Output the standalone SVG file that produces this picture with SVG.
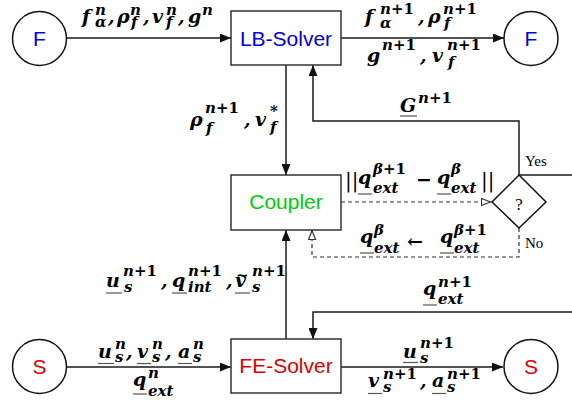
<svg xmlns="http://www.w3.org/2000/svg" width="572" height="407" viewBox="0 0 572 407">
<style>
.ln{stroke:#1a1a1a;stroke-width:1.5;fill:none}
.dash{stroke:#333;stroke-width:1.2;stroke-dasharray:4 3;fill:none}
.box{fill:#fff;stroke:#333;stroke-width:1.5}
.circ{fill:#fff;stroke:#111;stroke-width:1.5}
.lbl{font-family:"Liberation Sans",Arial,sans-serif;font-size:21px;text-anchor:middle}
.blue{fill:#0000dd}.green{fill:#00cc00}.red{fill:#dd0000}
.m{font-family:"DejaVu Serif",serif;font-weight:bold;font-style:italic;font-size:19px;fill:#000}
.s{font-size:15px}
.r{font-style:normal}
.ul{stroke:#555;stroke-width:1.2}
.t{font-family:"Liberation Serif",serif;font-size:15px;fill:#000}
.bar{font-family:"DejaVu Serif",serif;font-size:20px;fill:#000}
</style>
<defs>
<marker id="a" viewBox="0 0 11 9" refX="11" refY="4.5" markerWidth="11" markerHeight="9" markerUnits="userSpaceOnUse" orient="auto"><path d="M0,0 L11,4.5 L0,9 z" fill="#111"/></marker>
<marker id="o" viewBox="0 0 11 9" refX="10.5" refY="4.5" markerWidth="11" markerHeight="9" markerUnits="userSpaceOnUse" orient="auto"><path d="M1,1 L10,4.5 L1,8 z" fill="#fff" stroke="#333" stroke-width="1.2"/></marker>
</defs>

<g id="connectors">
<path class="ln" d="M67,38 H231" marker-end="url(#a)"/>
<path class="ln" d="M341,38 H504" marker-end="url(#a)"/>
<path class="ln" d="M286,65 V175" marker-end="url(#a)"/>
<path class="ln" d="M519,175 V121 H313 V65" marker-end="url(#a)"/>
<path class="ln" d="M519,175 H572"/>
<path class="dash" d="M341,202 H491" marker-end="url(#o)"/>
<path class="dash" d="M519,228 V257 H312 V230" marker-end="url(#o)"/>
<path class="ln" d="M286,339 V230" marker-end="url(#a)"/>
<path class="ln" d="M572,312 H313 V339" marker-end="url(#a)"/>
<path class="ln" d="M67,367 H231" marker-end="url(#a)"/>
<path class="ln" d="M341,367 H503" marker-end="url(#a)"/>
</g>

<g id="F-in"><circle class="circ" cx="39.5" cy="38.5" r="27"/><text class="lbl blue" x="39.5" y="46">F</text></g>
<g id="LB-Solver"><rect class="box" x="231" y="11" width="110" height="54"/><text class="lbl blue" x="286" y="46">LB-Solver</text></g>
<g id="F-out"><circle class="circ" cx="531" cy="38.5" r="27"/><text class="lbl blue" x="531" y="46">F</text></g>
<g id="Coupler"><rect class="box" x="231" y="175" width="110" height="55"/><text class="lbl green" x="286" y="209">Coupler</text></g>
<g id="Check"><polygon class="box" points="519,175 546,202 519,228 492,202" style="stroke:#111"/><text class="t" x="519" y="210" text-anchor="middle" style="font-size:17px">?</text></g>
<g id="FE-Solver"><rect class="box" x="231" y="339" width="110" height="54"/><text class="lbl red" x="286" y="373">FE-Solver</text></g>
<g id="S-in"><circle class="circ" cx="39.5" cy="366.5" r="27"/><text class="lbl red" x="39.5" y="374">S</text></g>
<g id="S-out"><circle class="circ" cx="531" cy="366.5" r="27"/><text class="lbl red" x="531" y="374">S</text></g>

<g id="labels">
<text class="t" x="525" y="166">Yes</text>
<text class="t" x="525" y="248">No</text>

<text class="m"><tspan x="82" y="23">f</tspan><tspan class="s" x="95" y="15">n</tspan><tspan class="s" x="95" y="27">α</tspan><tspan x="108" y="23">,</tspan><tspan x="117" y="23">ρ</tspan><tspan class="s" x="130" y="15">n</tspan><tspan class="s" x="131" y="27">f</tspan><tspan x="143" y="23">,</tspan><tspan x="152" y="23">v</tspan><tspan class="s" x="166" y="15">n</tspan><tspan class="s" x="166" y="27">f</tspan><tspan x="178" y="23">,</tspan><tspan x="188" y="23">g</tspan><tspan class="s" x="202" y="15">n</tspan></text>

<text class="m"><tspan x="365" y="23">f</tspan><tspan class="s" x="380" y="14">n<tspan class="r">+1</tspan></tspan><tspan class="s" x="380" y="28">α</tspan><tspan x="418" y="23">,</tspan><tspan x="428" y="23">ρ</tspan><tspan class="s" x="443" y="14">n<tspan class="r">+1</tspan></tspan><tspan class="s" x="444" y="28">f</tspan></text>

<text class="m"><tspan x="367" y="62">g</tspan><tspan class="s" x="382" y="50">n<tspan class="r">+1</tspan></tspan><tspan x="420" y="62">,</tspan><tspan x="432" y="62">v</tspan><tspan class="s" x="447" y="50">n<tspan class="r">+1</tspan></tspan><tspan class="s" x="448" y="67">f</tspan></text>

<text class="m"><tspan x="400" y="112">G</tspan><tspan class="s" x="418" y="103">n<tspan class="r">+1</tspan></tspan></text>
<line class="ul" x1="400" y1="116" x2="417" y2="116"/>

<text class="m"><tspan x="190" y="126">ρ</tspan><tspan class="s" x="205" y="113">n<tspan class="r">+1</tspan></tspan><tspan class="s" x="206" y="133">f</tspan><tspan x="244" y="126">,</tspan><tspan x="255" y="126">v</tspan><tspan class="s r" x="270" y="116">*</tspan><tspan class="s" x="270" y="132">f</tspan></text>

<text class="bar" x="345" y="187">||</text>
<text class="m"><tspan x="358" y="184">q</tspan><tspan class="s" x="373" y="174">β<tspan class="r">+1</tspan></tspan><tspan class="s" x="373" y="193">ext</tspan><tspan class="r" x="416" y="186">−</tspan><tspan x="437" y="184">q</tspan><tspan class="s" x="451" y="174">β</tspan><tspan class="s" x="451" y="193">ext</tspan></text>
<text class="bar" x="481" y="187">||</text>
<line class="ul" x1="358" y1="194" x2="372" y2="194"/>
<line class="ul" x1="437" y1="194" x2="451" y2="194"/>

<text class="m"><tspan x="360" y="243">q</tspan><tspan class="s" x="374" y="235">β</tspan><tspan class="s" x="374" y="253">ext</tspan><tspan class="r" x="407" y="248">←</tspan><tspan x="440" y="243">q</tspan><tspan class="s" x="454" y="235">β<tspan class="r">+1</tspan></tspan><tspan class="s" x="454" y="253">ext</tspan></text>
<line class="ul" x1="360" y1="253" x2="374" y2="253"/>
<line class="ul" x1="440" y1="253" x2="454" y2="253"/>

<text class="m"><tspan x="106" y="287">u</tspan><tspan class="s" x="123" y="276">n<tspan class="r">+1</tspan></tspan><tspan class="s" x="124" y="292">s</tspan><tspan x="161" y="287">,</tspan><tspan x="172" y="287">q</tspan><tspan class="s" x="188" y="276">n<tspan class="r">+1</tspan></tspan><tspan class="s" x="188" y="292">int</tspan><tspan x="226" y="287">,</tspan><tspan x="235" y="287">v</tspan><tspan class="s" x="252" y="276">n<tspan class="r">+1</tspan></tspan><tspan class="s" x="252" y="292">s</tspan></text>
<text class="m s r" x="236" y="280">~</text>
<line class="ul" x1="106" y1="293" x2="122" y2="293"/>
<line class="ul" x1="172" y1="293" x2="187" y2="293"/>
<line class="ul" x1="235" y1="293" x2="250" y2="293"/>

<text class="m"><tspan x="98" y="358">u</tspan><tspan class="s" x="115" y="349">n</tspan><tspan class="s" x="115" y="362">s</tspan><tspan x="126" y="358">,</tspan><tspan x="137" y="358">v</tspan><tspan class="s" x="152" y="349">n</tspan><tspan class="s" x="152" y="362">s</tspan><tspan x="165" y="358">,</tspan><tspan x="178" y="358">a</tspan><tspan class="s" x="193" y="349">n</tspan><tspan class="s" x="193" y="362">s</tspan></text>
<line class="ul" x1="98" y1="363.5" x2="114" y2="363.5"/>
<line class="ul" x1="137" y1="363.5" x2="151" y2="363.5"/>
<line class="ul" x1="178" y1="363.5" x2="192" y2="363.5"/>

<text class="m"><tspan x="133" y="386">q</tspan><tspan class="s" x="148" y="378">n</tspan><tspan class="s" x="148" y="396">ext</tspan></text>
<line class="ul" x1="133" y1="394" x2="147" y2="394"/>

<text class="m"><tspan x="423" y="295">q</tspan><tspan class="s" x="438" y="287">n<tspan class="r">+1</tspan></tspan><tspan class="s" x="438" y="304">ext</tspan></text>
<line class="ul" x1="423" y1="305" x2="437" y2="305"/>

<text class="m"><tspan x="403" y="358">u</tspan><tspan class="s" x="420" y="348">n<tspan class="r">+1</tspan></tspan><tspan class="s" x="420" y="363">s</tspan></text>
<line class="ul" x1="403" y1="362.5" x2="418" y2="362.5"/>

<text class="m"><tspan x="368" y="387">v</tspan><tspan class="s" x="383" y="379">n<tspan class="r">+1</tspan></tspan><tspan class="s" x="383" y="392">s</tspan><tspan x="420" y="387">,</tspan><tspan x="432" y="387">a</tspan><tspan class="s" x="447" y="379">n<tspan class="r">+1</tspan></tspan><tspan class="s" x="447" y="392">s</tspan></text>
<line class="ul" x1="368" y1="393.5" x2="382" y2="393.5"/>
<line class="ul" x1="432" y1="393.5" x2="446" y2="393.5"/>
</g>
</svg>
